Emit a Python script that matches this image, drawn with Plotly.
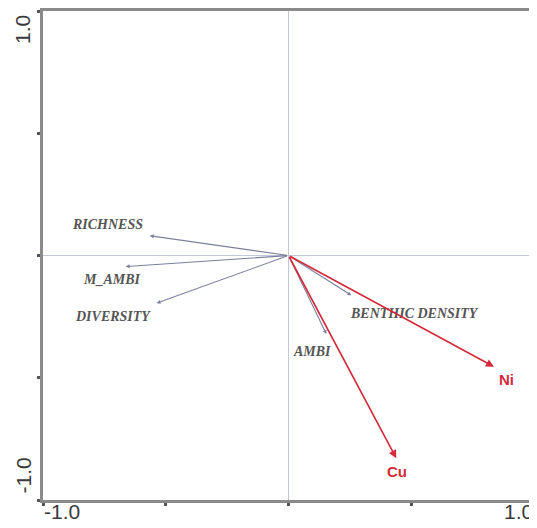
import plotly.graph_objects as go

# Species (response variables) arrow tips
species_names = ["RICHNESS", "M_AMBI", "DIVERSITY", "BENTHIC DENSITY", "AMBI"]
species_x = [-0.565, -0.663, -0.537, 0.256, 0.154]
species_y = [0.081, -0.045, -0.195, -0.163, -0.321]

# Environmental variables arrow tips
env_names = ["Ni", "Cu"]
env_x = [0.837, 0.439]
env_y = [-0.455, -0.829]

# Axis tick labels
tick_vals = [-1.0, -0.5, 0.0, 0.5, 1.0]
end_labels = ["-1.0", "1.0"]

# label offsets (pixels) – styling only
species_shift = [(-42, 11), (-14, -13), (-44, -13), (63, -18), (-14, -18)]
env_shift = [(13, -13), (1, -13)]

sp_col = "#7c7f9c"
env_col = "#d42a3a"
axis_col = "#8a8a8a"

fig = go.Figure()
fig.add_trace(go.Scatter(x=[0], y=[0], mode="markers", marker=dict(size=1, color="rgba(0,0,0,0)"),
                         showlegend=False, hoverinfo="skip"))

ann = []
for n, x, y, (dx, dy) in zip(species_names, species_x, species_y, species_shift):
    ann.append(dict(x=x, y=y, ax=0, ay=0, xref="x", yref="y", axref="x", ayref="y",
                    showarrow=True, arrowhead=2, arrowsize=0.7, arrowwidth=1.1,
                    arrowcolor=sp_col, text=""))
    ann.append(dict(x=x, y=y, xref="x", yref="y", showarrow=False, text="<b>" + n + "</b>",
                    xshift=dx, yshift=dy,
                    font=dict(family="Liberation Serif", size=14, color="#555555", style="italic")))
for n, x, y, (dx, dy) in zip(env_names, env_x, env_y, env_shift):
    ann.append(dict(x=x, y=y, ax=0, ay=0, xref="x", yref="y", axref="x", ayref="y",
                    showarrow=True, arrowhead=2, arrowsize=1.0, arrowwidth=1.6,
                    arrowcolor=env_col, text=""))
    ann.append(dict(x=x, y=y, xref="x", yref="y", showarrow=False, text="<b>" + n + "</b>",
                    xshift=dx, yshift=dy,
                    font=dict(family="Liberation Sans", size=15, color=env_col)))

lab_font = dict(family="Liberation Sans", size=21, color="#3a3a3a")
# x-axis end labels
ann.append(dict(x=tick_vals[0], y=tick_vals[0], xref="x", yref="y", text=end_labels[0], showarrow=False,
                xanchor="left", yanchor="top", xshift=0, yshift=1, borderpad=0, font=lab_font))
ann.append(dict(x=tick_vals[-1], y=tick_vals[0], xref="x", yref="y", text=end_labels[1], showarrow=False,
                xanchor="right", yanchor="top", xshift=0, yshift=1, borderpad=0, font=lab_font))
# y-axis end labels (rotated)
ann.append(dict(x=tick_vals[0], y=tick_vals[-1], xref="x", yref="y", text=end_labels[1], showarrow=False,
                textangle=-90, xanchor="right", yanchor="top", xshift=-7, yshift=-2, font=lab_font))
ann.append(dict(x=tick_vals[0], y=tick_vals[0], xref="x", yref="y", text=end_labels[0], showarrow=False,
                textangle=-90, xanchor="right", yanchor="bottom", xshift=-7, yshift=4, font=lab_font))

axis_common = dict(range=[-1, 1], tickvals=tick_vals, showticklabels=False, ticks="outside",
                   ticklen=3, tickwidth=3, tickcolor="#555555", showgrid=False,
                   zeroline=True, zerolinecolor="#c2c8d6", zerolinewidth=1,
                   showline=True, linecolor=axis_col, linewidth=3, mirror=True, fixedrange=True)

fig.update_layout(
    width=529, height=520,
    margin=dict(l=35, r=2, t=0, b=28),
    plot_bgcolor="white", paper_bgcolor="white",
    xaxis=axis_common, yaxis=axis_common,
    annotations=ann, showlegend=False,
)
fig.write_html("out.html")
